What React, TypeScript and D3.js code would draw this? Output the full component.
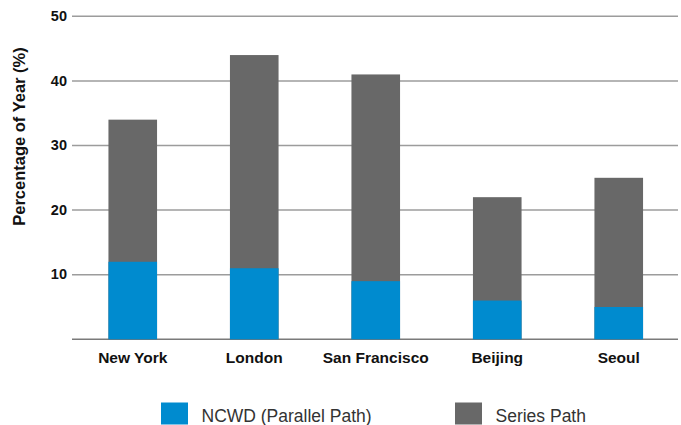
import React from "react";
import * as d3 from "d3";

// Share of the year spent in each configuration, by city
const cities = ["New York", "London", "San Francisco", "Beijing", "Seoul"];
const seriesPath = [34, 44, 41, 22, 25];
const ncwdParallel = [12, 11, 9, 6, 5];
const yTicks = [10, 20, 30, 40, 50];
const legendItems = ["NCWD (Parallel Path)", "Series Path"];

const W = 681;
const H = 425;
const BLUE = "#008bcf";
const GRAY = "#686868";
const FONT = "'Liberation Sans', Arial, Helvetica, sans-serif";

export default function App() {
  const x = d3
    .scaleBand<string>()
    .domain(cities)
    .range([72, 679.5])
    .paddingInner(0.6)
    .paddingOuter(0.3);
  const y = d3.scaleLinear().domain([0, 50]).range([339.3, 16.3]);
  const legendColors = [BLUE, GRAY];

  return (
    <svg
      width={W}
      height={H}
      style={{ position: "absolute", left: 0, top: 0, background: "#fff" }}
      fontFamily={FONT}
    >
      {/* horizontal gridlines */}
      {yTicks.map((t) => (
        <g key={t}>
          <line x1={72} x2={678} y1={y(t)} y2={y(t)} stroke="#9c9c9c" strokeWidth={1.5} />
          <text
            x={67}
            y={y(t)}
            dy="0.33em"
            textAnchor="end"
            fontSize={14.5}
            fontWeight="bold"
            fill="#111"
          >
            {t}
          </text>
        </g>
      ))}
      <line x1={72} x2={678} y1={y(0)} y2={y(0)} stroke="#7a7a7a" strokeWidth={1.5} />

      {/* bars: series path overlaid by the parallel path share */}
      {cities.map((c, i) => (
        <g key={c}>
          <rect
            x={x(c)}
            width={x.bandwidth()}
            y={y(seriesPath[i])}
            height={y(0) - y(seriesPath[i])}
            fill={GRAY}
          />
          <rect
            x={x(c)}
            width={x.bandwidth()}
            y={y(ncwdParallel[i])}
            height={y(0) - y(ncwdParallel[i])}
            fill={BLUE}
          />
          <text
            x={(x(c) ?? 0) + x.bandwidth() / 2}
            y={363}
            textAnchor="middle"
            fontSize={15.5}
            fontWeight="bold"
            fill="#111"
          >
            {c}
          </text>
        </g>
      ))}

      {/* y-axis title */}
      <text
        transform="translate(24.5,136.5) rotate(-90)"
        textAnchor="middle"
        fontSize={16.5}
        fontWeight="bold"
        fill="#111"
      >
        Percentage of Year (%)
      </text>

      {/* legend */}
      {legendItems.map((label, i) => {
        const lx = [161, 455][i];
        return (
          <g key={label}>
            <rect x={lx} y={402.5} width={27} height={22} fill={legendColors[i]} />
            <text x={lx + 40.5} y={421.5} fontSize={17.5} fill="#333">
              {label}
            </text>
          </g>
        );
      })}
    </svg>
  );
}
